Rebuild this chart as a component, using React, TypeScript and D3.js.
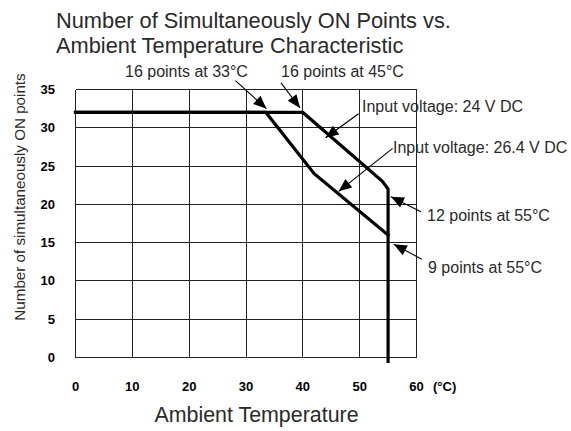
import React from "react";
import * as d3 from "d3";

const titleLines = ["Number of Simultaneously ON Points vs.", "Ambient Temperature Characteristic"];
const xTicks = [0, 10, 20, 30, 40, 50, 60];
const yTicks = [0, 5, 10, 15, 20, 25, 30, 35];
const xUnit = "(°C)";
const xTitle = "Ambient Temperature";
const yTitle = "Number of simultaneously ON points";

// Input voltage: 24 V DC
const temps24 = [0, 40, 54, 55, 55];
const points24 = [32, 32, 23, 22, -0.5];
// Input voltage: 26.4 V DC
const temps264 = [0, 33.5, 42, 55];
const points264 = [32, 32, 24, 16];

// annotations: label, arrow tip (data)
const annLabels = [
  "16 points at 33°C",
  "16 points at 45°C",
  "Input voltage: 24 V DC",
  "Input voltage: 26.4 V DC",
  "12 points at 55°C",
  "9 points at 55°C",
];
const annTipT = [33.6, 39.5, 44, 46.3, 55.5, 56];
const annTipN = [32.5, 32.6, 28.7, 21.7, 21.0, 14.8];

const W = 571;
const H = 431;

export default function App() {
  const x = d3.scaleLinear().domain([0, 60]).range([75.5, 416.5]);
  const y = d3.scaleLinear().domain([0, 35]).range([357.5, 89.5]);
  const line = d3
    .line<[number, number]>()
    .x((d) => x(d[0]))
    .y((d) => y(d[1]));
  const d24 = line(temps24.map((t, i) => [t, points24[i]] as [number, number]));
  const d264 = line(temps264.map((t, i) => [t, points264[i]] as [number, number]));

  const tails: [number, number][] = [
    [-31, -28],
    [-19, -25],
    [33, -24],
    [54, -43],
    [30, 15],
    [28, 15],
  ];
  const labelPos: [number, number][] = [
    [125, 77],
    [281, 77],
    [362, 112],
    [393, 153],
    [427, 221],
    [428, 273],
  ];

  const textColor = "#2a2a2a";
  const tickFont = "'Liberation Sans Narrow', 'Arial Narrow', Arial, sans-serif";
  const sans = "'Liberation Sans', Arial, Helvetica, sans-serif";

  const arrowHead = (tx: number, ty: number, fx: number, fy: number) => {
    const dx = tx - fx;
    const dy = ty - fy;
    const len = Math.hypot(dx, dy);
    const ux = dx / len;
    const uy = dy / len;
    const L = 13;
    const hw = 5.5;
    const bx = tx - ux * L;
    const by = ty - uy * L;
    return `M${tx},${ty}L${bx - uy * hw},${by + ux * hw}L${bx + uy * hw},${by - ux * hw}Z`;
  };

  return (
    <svg
      width={W}
      height={H}
      style={{ position: "absolute", left: 0, top: 0, background: "#fff" }}
    >
      <rect width={W} height={H} fill="#fff" />
      {titleLines.map((t, i) => (
        <text
          key={t}
          x={56}
          y={28 + i * 24.5}
          fontFamily={sans}
          fontSize={21.8}
          fill={textColor}
        >
          {t}
        </text>
      ))}

      {/* grid */}
      <g stroke="#222" strokeWidth={1} shapeRendering="crispEdges">
        {xTicks.map((t) => (
          <line key={"vx" + t} x1={x(t)} x2={x(t)} y1={y(0)} y2={y(35)} />
        ))}
        {yTicks.map((t) => (
          <line key={"hy" + t} x1={x(0)} x2={x(60)} y1={y(t)} y2={y(t)} />
        ))}
      </g>

      {/* tick labels */}
      <g fontFamily={tickFont} fontWeight="bold" fontSize={13} fill="#000">
        {yTicks.map((t) => (
          <text key={"yl" + t} x={55} y={y(t) + 4.5} textAnchor="end">
            {t}
          </text>
        ))}
        {xTicks.map((t) => (
          <text key={"xl" + t} x={x(t)} y={391} textAnchor="middle">
            {t}
          </text>
        ))}
        <text x={433} y={391} fontSize={13}>
          {xUnit}
        </text>
      </g>

      {/* axis titles */}
      <text
        x={256.5}
        y={421.5}
        textAnchor="middle"
        fontFamily={sans}
        fontSize={21.4}
        fill={textColor}
      >
        {xTitle}
      </text>
      <text
        transform={`translate(24.5,197) rotate(-90)`}
        textAnchor="middle"
        fontFamily={sans}
        fontSize={15.2}
        fill={textColor}
      >
        {yTitle}
      </text>

      {/* data lines */}
      <path d={d264 || ""} fill="none" stroke="#000" strokeWidth={3.2} strokeLinejoin="miter" strokeLinecap="square" />
      <path d={d24 || ""} fill="none" stroke="#000" strokeWidth={3.2} strokeLinejoin="miter" strokeLinecap="square" />

      {/* annotations */}
      {annLabels.map((lab, i) => {
        const tx = x(annTipT[i]);
        const ty = y(annTipN[i]);
        const fx = tx + tails[i][0];
        const fy = ty + tails[i][1];
        return (
          <g key={lab}>
            <line x1={fx} y1={fy} x2={tx} y2={ty} stroke="#000" strokeWidth={1.1} />
            <path d={arrowHead(tx, ty, fx, fy)} fill="#000" />
            <text
              x={labelPos[i][0]}
              y={labelPos[i][1]}
              fontFamily={sans}
              fontSize={16}
              fill={textColor}
            >
              {lab}
            </text>
          </g>
        );
      })}
    </svg>
  );
}
